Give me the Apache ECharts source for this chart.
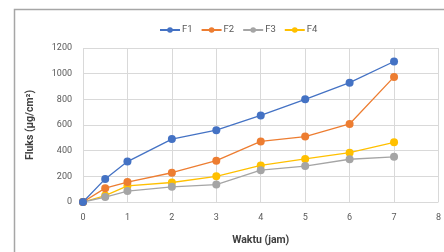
<!DOCTYPE html>
<html>
<head>
<meta charset="utf-8">
<script src="https://cdn.jsdelivr.net/npm/echarts@6/dist/echarts.min.js"></script>
<style>
  html, body { margin: 0; padding: 0; background: #fff; }
  #chart { width: 444px; height: 252px; }
</style>
</head>
<body>
<div id="chart"></div>
<script>
// data
var waktu = [0, 0.5, 1, 2, 3, 4, 5, 6, 7];
var f1 = [0, 180, 315, 490, 560, 675, 800, 930, 1095];
var f2 = [0, 108, 155, 228, 322, 472, 510, 608, 975];
var f3 = [0, 38, 85, 118, 136, 248, 280, 333, 352];
var f4 = [0, 50, 126, 152, 200, 285, 336, 384, 465];
var names = ['F1', 'F2', 'F3', 'F4'];
var colors = ['#4472C4', '#ED7D31', '#A5A5A5', '#FFC000'];

function pairs(arr) {
  return waktu.map(function (x, i) { return [x, arr[i]]; });
}

var chart = echarts.init(document.getElementById('chart'));
var font = 'Roboto, "Liberation Sans", sans-serif';

// draw in reverse so F1 sits on top
var allData = [f1, f2, f3, f4];
var series = [];
for (var i = 3; i >= 0; i--) {
  series.push({
    name: names[i],
    type: 'line',
    data: pairs(allData[i]),
    symbol: 'circle',
    symbolSize: 8,
    itemStyle: { color: colors[i] },
    lineStyle: { width: 1.3, color: colors[i] },
    z: 10 - i
  });
}

chart.setOption({
  animation: false,
  color: colors,
  graphic: [{
    type: 'rect',
    shape: { x: 14.5, y: 9.5, width: 440, height: 250 },
    style: { fill: 'none', stroke: '#a6a6a6', lineWidth: 1.5 },
    silent: true
  }],
  legend: {
    data: names,
    top: 20,
    left: 154,
    itemWidth: 20,
    itemHeight: 7,
    itemGap: 8,
    textStyle: { fontFamily: font, fontSize: 9.5, color: '#595959', padding: [0, 0, 0, -3] }
  },
  grid: { left: 83, right: 3, top: 48, bottom: 50, containLabel: false },
  xAxis: {
    type: 'value',
    min: 0,
    max: 8,
    interval: 1,
    name: 'Waktu (jam)',
    nameLocation: 'middle',
    nameGap: 33,
    nameTextStyle: { fontFamily: font, fontSize: 10.5, fontWeight: 'bold', color: '#404040' },
    axisLine: { show: false },
    axisTick: { show: false },
    axisLabel: { fontFamily: font, fontSize: 9, color: '#595959', margin: 11 },
    splitLine: { show: true, lineStyle: { color: '#d9d9d9', width: 1 } }
  },
  yAxis: {
    type: 'value',
    min: 0,
    max: 1200,
    interval: 200,
    name: 'Fluks (µg/cm²)',
    nameLocation: 'middle',
    nameGap: 47,
    nameTextStyle: { fontFamily: font, fontSize: 10.5, fontWeight: 'bold', color: '#404040' },
    axisLine: { show: false },
    axisTick: { show: false },
    axisLabel: {
      fontFamily: font, fontSize: 9, color: '#595959', margin: 11,
      formatter: function (v) { return String(v); }
    },
    splitLine: { lineStyle: { color: '#d9d9d9', width: 1 } }
  },
  series: series
});
</script>
</body>
</html>
